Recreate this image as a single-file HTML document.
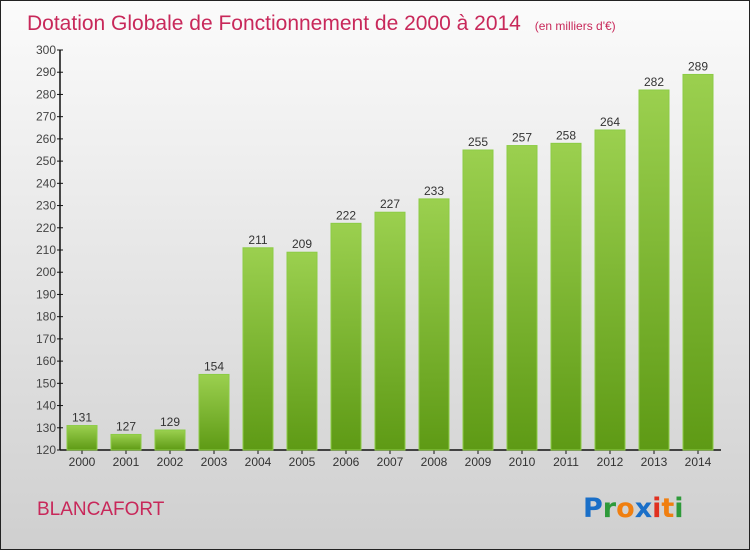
<!DOCTYPE html>
<html><head><meta charset="utf-8"><style>
html,body{margin:0;padding:0}
body{width:750px;height:550px;overflow:hidden;font-family:"Liberation Sans",sans-serif}
#wrap{position:absolute;left:0;top:0;width:748px;height:548px;border:1px solid #222;background:linear-gradient(#fbfbfb,#cfcfcf)}
</style></head><body>
<div id="wrap">
<svg width="748" height="548" xmlns="http://www.w3.org/2000/svg" id="svg">
<defs><linearGradient id="bg" x1="0" y1="0" x2="0" y2="1"><stop offset="0" stop-color="#9bd04f"/><stop offset="1" stop-color="#5e9a15"/></linearGradient></defs>
<text x="26" y="29" font-size="21" fill="#c8285a">Dotation Globale de Fonctionnement de 2000 à 2014 <tspan font-size="12" dx="8">(en milliers d'€)</tspan></text>
<text x="36" y="514" font-size="19" fill="#c8285a">BLANCAFORT</text>
<g font-size="27" font-weight="bold" font-family="'DejaVu Sans',sans-serif">
<text x="582" y="516"><tspan fill="#1a6fc8">P</tspan><tspan fill="#2e9a3a">r</tspan><tspan fill="#f07f10">o</tspan><tspan fill="#1a6fc8">x</tspan><tspan fill="#e03020">i</tspan><tspan fill="#f07f10">t</tspan><tspan fill="#2e9a3a">i</tspan></text></g>
<g id="axes"></g><g id="bars"></g>
</svg></div>
<script>
const years=["2000","2001","2002","2003","2004","2005","2006","2007","2008","2009","2010","2011","2012","2013","2014"];
const values=[131,127,129,154,211,209,222,227,233,255,257,258,264,282,289];
const yTicks=[120,130,140,150,160,170,180,190,200,210,220,230,240,250,260,270,280,290,300];
const NS="http://www.w3.org/2000/svg";
const y0=449,y1=49,vmin=120,vmax=300,xl=59,x0=81,step=44,bw=30;
const Y=v=>y0-(v-vmin)/(vmax-vmin)*(y0-y1);
const X=i=>x0+i*step;
function mk(t,a,p){const e=document.createElementNS(NS,t);for(const k in a)e.setAttribute(k,a[k]);p.appendChild(e);return e;}
const ax=document.getElementById('axes'),bs=document.getElementById('bars');
let l=mk('line',{x1:xl,y1:y1,x2:xl,y2:y0,stroke:'#111','stroke-width':1.5},ax);

l=mk('line',{x1:xl,y1:y0,x2:720,y2:y0,stroke:'#111','stroke-width':1.5},ax);

yTicks.forEach(v=>{
 const t=mk('line',{x1:xl-3,y1:Y(v),x2:xl+3,y2:Y(v),stroke:'#111'},ax);
 
 const tx=mk('text',{x:xl-4,y:Y(v)+4,'font-size':12,'text-anchor':'end',fill:'#444'},ax);tx.textContent=v;
 
});
years.forEach((yr,i)=>{
 const t=mk('line',{x1:X(i),y1:y0,x2:X(i),y2:y0+4,stroke:'#111'},ax);
 
 const tx=mk('text',{x:X(i),y:y0+16,'font-size':12,'text-anchor':'middle',fill:'#333'},ax);tx.textContent=yr;
 
 const b=mk('rect',{x:X(i)-bw/2,y:Y(values[i]),width:bw,height:y0-Y(values[i]),fill:'url(#bg)',stroke:'#8ccc45','stroke-width':1},bs);
 
 const vl=mk('text',{x:X(i),y:Y(values[i])-4,'font-size':12,'text-anchor':'middle',fill:'#333'},bs);vl.textContent=values[i];
 
});
</script>
</body></html>
